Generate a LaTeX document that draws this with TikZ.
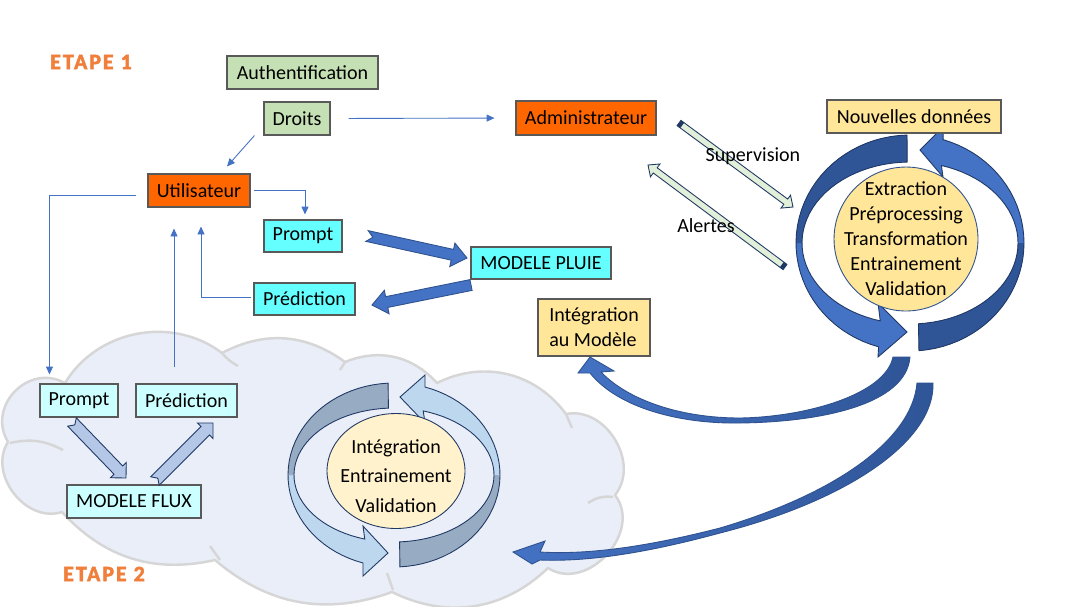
\documentclass[tikz,border=0pt]{standalone}
\usepackage{fontspec}
\setmainfont{Carlito}
\newfontfamily\etapefont{Carlito}[LetterSpace=9, BoldFeatures={FakeBold=2.2}]
\usetikzlibrary{calc,arrows.meta,shapes.geometric}
\definecolor{lgreen}{HTML}{C5E0B4}
\definecolor{orng}{HTML}{FF6600}
\definecolor{cyanb}{HTML}{66FFFF}
\definecolor{cyanl}{HTML}{CCFFFF}
\definecolor{ylw}{HTML}{FFE699}
\definecolor{ylwl}{HTML}{FFF2CC}
\definecolor{lineblue}{HTML}{4472C4}
\definecolor{darkblue}{HTML}{2F5597}
\definecolor{navy}{HTML}{203864}
\definecolor{edgeblue}{HTML}{2F528F}
\definecolor{cloudfill}{HTML}{E9EEF8}
\definecolor{cloudedge}{HTML}{D6D6D6}
\definecolor{lblue}{HTML}{B4C7E7}
\definecolor{paleblue}{HTML}{BDD7EE}
\definecolor{grayblue}{HTML}{97ABC2}
\definecolor{pgreen}{HTML}{E2F0D9}
\definecolor{etapecol}{HTML}{F07F3C}
\definecolor{boxedge}{HTML}{595959}
\newcommand\blockarrow[7]{%
  \draw[#1] ($(#2)!#4!90:(#3)$) -- ($(#3)!#6!(#2)!#4!-90:(#2)$) -- ($(#3)!#6!(#2)!#5!-90:(#2)$) -- (#3)
   -- ($(#3)!#6!(#2)!#5!90:(#2)$) -- ($(#3)!#6!(#2)!#4!90:(#2)$) -- ($(#2)!#4!-90:(#3)$) -- ($(#2)!#7!(#3)$) -- cycle;}
\newcommand\tailcap[4]{%
  \fill[#1] ($(#2)!#4!90:(#3)$) -- ($(#2)!#4!-90:(#3)$) -- ($(#2)!0.08cm!(#3)!#4!-90:(#3)$) -- ($(#2)!0.08cm!(#3)!#4!90:(#3)$) -- cycle;}
\tikzset{
  txt/.style={font=\fontsize{11.4}{13.7}\selectfont},
  box/.style={txt, draw=boxedge, line width=0.6pt, inner sep=0pt, align=center},
  sz/.style 2 args={minimum width=#1*0.02cm, minimum height=#2*0.02cm},
  conn/.style={draw=lineblue, line width=0.5pt, -{Triangle[length=4.5pt,width=4pt]}},
  etape/.style={font=\etapefont\bfseries\fontsize{12.5}{14}\selectfont, text=etapecol},
  crease/.style={draw=cloudedge, line width=1.4pt},
  bigblue/.style={fill=lineblue, draw=edgeblue, line width=0.5pt},
  smallblue/.style={fill=lblue, draw=navy, line width=0.5pt},
  greenarr/.style={fill=pgreen, draw=navy, line width=0.5pt},
  curvearr/.style={left color=lineblue, right color=darkblue, draw=edgeblue, line width=0.5pt},
  arcedge/.style={draw=navy, line width=0.5pt},
}
\begin{document}
\begin{tikzpicture}[x=0.02cm,y=-0.02cm]
\useasboundingbox (0,0) rectangle (1077,606);
\fill[white] (0,0) rectangle (1077,606);

% cloud
\path[draw=cloudedge, line width=1.4pt, fill=cloudfill, line join=round]
 (8,442) to[bend left=75, looseness=1.3] (65,383)
 to[bend left=48] (222,353)
 to[bend left=32] (345,362)
 to[bend left=35] (437,383)
 to[bend left=40] (566,414)
 to[bend left=70, looseness=1.1] (615,495)
 to[bend left=80, looseness=1.2] (548,568)
 to[bend left=35] (392,592)
 to[bend left=30] (215,560)
 to[bend left=30] (62,512)
 to[bend left=70, looseness=1.1] (8,442) -- cycle;
\draw[crease] (10,443) to[bend left=20] (63,450);
\draw[crease] (222,353) to[bend right=10] (238,366);
\draw[crease] (613,497) to[bend right=20] (588,503);
\draw[crease] (210,546) -- (220,560);
\draw[crease] (387,573) -- (393,590);
\draw[crease] (566,414) -- (572,428);
\draw[crease] (345,362) -- (340,370);

% labels ETAPE
\node[etape] (e1) at (91,62) {ETAPE 1};
\node[etape] (e2) at (104,574) {ETAPE 2};

% bottom cycle arcs
\fill[paleblue] plot[domain=266.8:107, samples=40] ({394+106*cos(\x)},{475+92*sin(\x)}) -- (363,576) -- (388,553) -- (363,526) -- plot[domain=107:266.8, samples=40] ({394+100*cos(\x)},{475+67*sin(\x)}) -- cycle;
\fill[grayblue] plot[domain=266.8:180, samples=30] ({394+106*cos(\x)},{475+92*sin(\x)}) -- plot[domain=180:266.8, samples=30] ({394+100*cos(\x)},{475+67*sin(\x)}) -- cycle;
\draw[arcedge] plot[domain=266.8:107, samples=40] ({394+106*cos(\x)},{475+92*sin(\x)}) -- (363,576) -- (388,553) -- (363,526) -- plot[domain=107:266.8, samples=40] ({394+100*cos(\x)},{475+67*sin(\x)}) -- cycle;
\fill[paleblue] plot[domain=86.8:-73, samples=40] ({394+106*cos(\x)},{475+92*sin(\x)}) -- (425,375) -- (400,397) -- (425,423) -- plot[domain=-73:86.8, samples=40] ({394+100*cos(\x)},{475+67*sin(\x)}) -- cycle;
\fill[grayblue] plot[domain=86.8:0, samples=30] ({394+106*cos(\x)},{475+92*sin(\x)}) -- plot[domain=0:86.8, samples=30] ({394+100*cos(\x)},{475+67*sin(\x)}) -- cycle;
\draw[arcedge] plot[domain=86.8:-73, samples=40] ({394+106*cos(\x)},{475+92*sin(\x)}) -- (425,375) -- (400,397) -- (425,423) -- plot[domain=-73:86.8, samples=40] ({394+100*cos(\x)},{475+67*sin(\x)}) -- cycle;

% right cycle arcs
\fill[lineblue] plot[domain=268.5:106, samples=40] ({910+114*cos(\x)},{243+108*sin(\x)}) -- (878,357) -- (907,332) -- (878,303) -- plot[domain=106:268.5, samples=40] ({910+108*cos(\x)},{243+81*sin(\x)}) -- cycle;
\fill[darkblue] plot[domain=268.5:180, samples=30] ({910+114*cos(\x)},{243+108*sin(\x)}) -- plot[domain=180:268.5, samples=30] ({910+108*cos(\x)},{243+81*sin(\x)}) -- cycle;
\draw[arcedge] plot[domain=268.5:106, samples=40] ({910+114*cos(\x)},{243+108*sin(\x)}) -- (878,357) -- (907,332) -- (878,303) -- plot[domain=106:268.5, samples=40] ({910+108*cos(\x)},{243+81*sin(\x)}) -- cycle;
\fill[lineblue] plot[domain=85.5:-73.1, samples=40] ({910+114*cos(\x)},{243+108*sin(\x)}) -- (943,127) -- (920,150) -- (943,177) -- plot[domain=-73.1:85.5, samples=40] ({910+108*cos(\x)},{243+81*sin(\x)}) -- cycle;
\fill[darkblue] plot[domain=85.5:0, samples=30] ({910+114*cos(\x)},{243+108*sin(\x)}) -- plot[domain=0:85.5, samples=30] ({910+108*cos(\x)},{243+81*sin(\x)}) -- cycle;
\draw[arcedge] plot[domain=85.5:-73.1, samples=40] ({910+114*cos(\x)},{243+108*sin(\x)}) -- (943,127) -- (920,150) -- (943,177) -- plot[domain=-73.1:85.5, samples=40] ({910+108*cos(\x)},{243+81*sin(\x)}) -- cycle;

% circles
\node[circle, draw=edgeblue, fill=ylw, line width=0.5pt, minimum size=2.88cm, inner sep=0pt] (c1) at (906,239) {};
\node[txt, align=center, font=\fontsize{11.4}{14.2}\selectfont] (c1t) at (906,239) {Extraction\\Préprocessing\\Transformation\\Entrainement\\Validation};
\node[ellipse, draw=navy, fill=ylwl, line width=0.5pt, minimum width=2.76cm, minimum height=2.3cm, inner sep=0pt] (c2) at (396,471) {};
\node[txt, align=center, font=\fontsize{11.4}{16.8}\selectfont] (c2t) at (396,476) {Intégration\\Entrainement\\Validation};

% nodes
\node[box, fill=lgreen, sz={151}{33}] (auth) at (302.5,72.5) {Authentification};
\node[box, fill=lgreen, sz={66}{33}] (droits) at (297,118.5) {Droits};
\node[box, fill=orng, sz={140}{34}] (admin) at (586,118) {Administrateur};
\node[box, fill=orng, sz={102}{33}] (util) at (199,190.5) {Utilisateur};
\node[box, fill=cyanb, sz={78}{32}] (promptT) at (303,236) {Prompt};
\node[box, fill=cyanb, sz={140}{32}] (pluie) at (541,263) {MODELE PLUIE};
\node[box, fill=cyanb, sz={101}{32}] (predT) at (304.5,299) {Prédiction};
\node[box, fill=ylw, sz={174}{33}] (nouv) at (914,116.5) {Nouvelles données};
\node[box, fill=ylw, sz={112}{57}, align=left, font=\fontsize{11.4}{14.2}\selectfont] (integ) at (594,327.5) {Intégration\\au Modèle};
\node[box, fill=cyanl, sz={78}{33}] (promptB) at (79,400.5) {Prompt};
\node[box, fill=cyanl, sz={101}{33}] (predB) at (186.5,400.5) {Prédiction};
\node[box, fill=cyanl, sz={134}{33}] (flux) at (134,501.5) {MODELE FLUX};

% thin connectors
\draw[conn, shorten <=0.36cm, shorten >=0.42cm] (droits.east) -- (admin.west);
\draw[conn] ($(droits.south west)+(-9,0)$) -- ($(util.north)+(28,-7)$);
\draw[conn, shorten <=0.06cm, shorten >=0.1cm] (util.east) -| ($(promptT.north)+(2,0)$);
\draw[conn] ($(util.west)+(-11,5)$) -| ($(promptB.north west)+(10,-9)$);
\draw[conn] ($(predT.west)+(-2,-2)$) -| ($(util.south)+(2,19)$);
\draw[conn] ($(predB.north)+(-12.5,-16)$) -- ($(util.south)+(-25,21)$);

% block arrows
\coordinate (b1s) at (367,236); \coordinate (b1e) at (467,258);
\coordinate (b2s) at (471,285); \coordinate (b2e) at (372,305);
\coordinate (b3s) at (72,422);  \coordinate (b3e) at (126,478);
\coordinate (b4s) at (155,481); \coordinate (b4e) at (213,423);
\blockarrow{bigblue}{b1s}{b1e}{0.11cm}{0.24cm}{0.30cm}{0.12cm}
\blockarrow{bigblue}{b2s}{b2e}{0.11cm}{0.24cm}{0.30cm}{0cm}
\blockarrow{smallblue}{b3s}{b3e}{0.12cm}{0.22cm}{0.22cm}{0.08cm}
\blockarrow{smallblue}{b4s}{b4e}{0.12cm}{0.22cm}{0.22cm}{0.08cm}

% supervision / alertes
\coordinate (sups) at (679,123); \coordinate (supe) at (793,207);
\coordinate (alrs) at (785,267); \coordinate (alre) at (648,165);
\blockarrow{greenarr}{sups}{supe}{0.065cm}{0.16cm}{0.18cm}{0cm}
\tailcap{navy}{sups}{supe}{0.065cm}
\blockarrow{greenarr}{alrs}{alre}{0.065cm}{0.16cm}{0.18cm}{0cm}
\tailcap{navy}{alrs}{alre}{0.065cm}
\node[txt] (suplab) at (753,156) {Supervision};
\node[txt] (alrlab) at (706,226) {Alertes};

% curved arrows
\path[curvearr] (910,357) .. controls (906,405) and (820,422) .. (740,423) .. controls (680,424) and (618,408) .. (590,373) -- (578,373) -- (590,357) -- (614,371) -- (601,372) .. controls (628,400) and (680,418) .. (740,418) .. controls (805,417) and (885,395) .. (893,357) -- cycle;
\path[curvearr] (933,383) .. controls (935,440) and (850,500) .. (720,533) .. controls (650,552) and (590,562) .. (540,560) -- (532,564) -- (513,552) -- (545,541) -- (540,552) .. controls (590,555) and (650,546) .. (720,528) .. controls (835,494) and (912,440) .. (917,383) -- cycle;
\end{tikzpicture}
\end{document}
